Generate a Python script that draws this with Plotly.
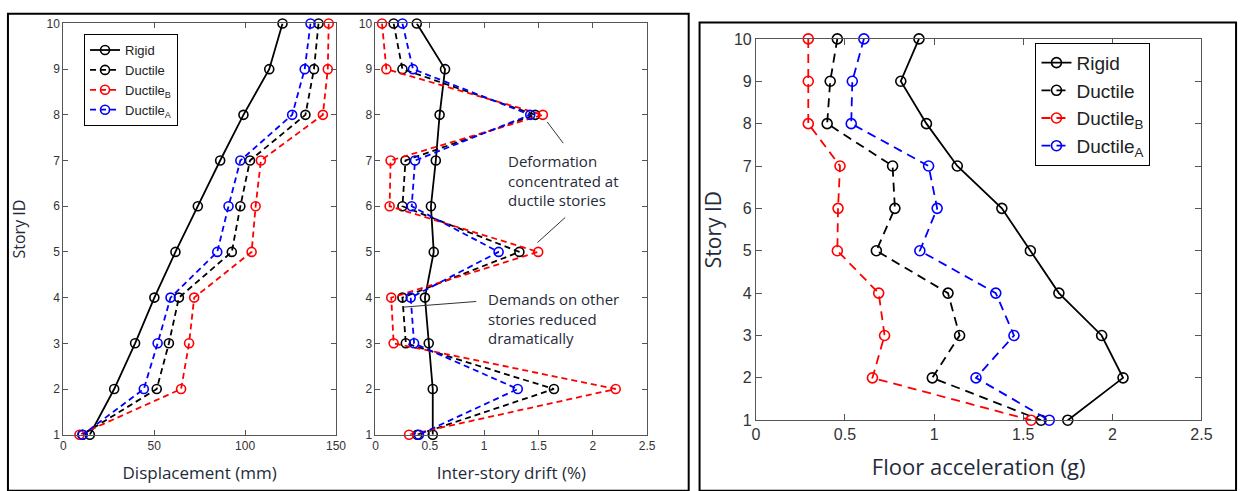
import plotly.graph_objects as go

W, H = 1251, 491
stories = [10, 9, 8, 7, 6, 5, 4, 3, 2, 1]

# Displacement (mm)
disp_rigid = [120.6, 113.3, 99.1, 86.3, 74.0, 61.7, 50.1, 39.5, 28.0, 14.6]
disp_ductile = [140.4, 137.9, 133.2, 102.7, 97.4, 92.7, 63.6, 58.1, 51.4, 10.5]
disp_ductB = [146.0, 145.5, 142.8, 108.7, 105.8, 103.6, 72.0, 69.2, 64.8, 8.9]
disp_ductA = [136.0, 132.8, 125.9, 97.4, 90.9, 84.7, 59.0, 51.9, 44.3, 10.7]

# Inter-story drift (%)
drift_rigid = [0.38, 0.64, 0.59, 0.555, 0.51, 0.536, 0.455, 0.49, 0.527, 0.527]
drift_ductile = [0.167, 0.248, 1.47, 0.276, 0.248, 1.324, 0.248, 0.279, 1.642, 0.385]
drift_ductB = [0.06, 0.10, 1.54, 0.139, 0.13, 1.497, 0.145, 0.167, 2.21, 0.309]
drift_ductA = [0.248, 0.345, 1.424, 0.364, 0.333, 1.133, 0.324, 0.355, 1.309, 0.40]

# Floor acceleration (g)
acc_rigid = [0.915, 0.813, 0.957, 1.13, 1.38, 1.54, 1.70, 1.94, 2.06, 1.75]
acc_ductile = [0.457, 0.417, 0.40, 0.767, 0.78, 0.676, 1.078, 1.143, 0.99, 1.60]
acc_ductB = [0.294, 0.294, 0.294, 0.472, 0.461, 0.457, 0.689, 0.722, 0.654, 1.544]
acc_ductA = [0.606, 0.541, 0.535, 0.969, 1.017, 0.92, 1.346, 1.448, 1.235, 1.646]

names = ["Rigid", "Ductile", "Ductile<sub>B</sub>", "Ductile<sub>A</sub>"]
colors = ["#000000", "#000000", "#ff0000", "#0000ff"]

TXT = "#1f2b3a"
TICK = "#333333"
AX = "#555555"

fig = go.Figure()

panels = [
    ([disp_rigid, disp_ductile, disp_ductB, disp_ductA], "x", "y", "legend", 9, ["solid", "6px,4px", "6px,4px", "6px,4px"]),
    ([drift_rigid, drift_ductile, drift_ductB, drift_ductA], "x2", "y2", None, 9, ["solid", "6px,4px", "6px,4px", "6px,4px"]),
    ([acc_rigid, acc_ductile, acc_ductB, acc_ductA], "x3", "y3", "legend2", 10, ["solid", "9px,6px", "9px,6px", "9px,6px"]),
]

for series, xa, ya, leg, msize, dsh in panels:
    for i, vals in enumerate(series):
        fig.add_trace(go.Scatter(
            x=vals, y=stories, xaxis=xa, yaxis=ya,
            mode="lines+markers", name=names[i],
            line=dict(color=colors[i], width=1.8, dash=dsh[i]),
            marker=dict(symbol="circle-open", size=msize, color=colors[i], line=dict(width=1.6, color=colors[i])),
            cliponaxis=False,
            showlegend=leg is not None,
            legend=leg if leg else "legend",
        ))

def px(x):
    return x / W

def py(y):
    return 1 - y / H

axis_common = dict(
    showline=True, linecolor=AX, linewidth=1, mirror="ticks",
    ticks="inside", ticklen=5, tickcolor=AX, showgrid=False, zeroline=False,
    tickfont=dict(family="Liberation Sans, Arial", size=12, color=TICK),
)
axis_big = {**axis_common, "tickfont": dict(family="Liberation Sans, Arial", size=16, color=TICK), "ticklen": 6}

fig.update_layout(
    width=W, height=H, margin=dict(l=0, r=0, t=0, b=0),
    plot_bgcolor="white", paper_bgcolor="white",
    xaxis=dict(domain=[px(60), px(336)], range=[0, 150], tickvals=[0, 50, 100, 150], anchor="y",
               title=dict(text="Displacement (mm)", font=dict(family="Open Sans", size=17, color=TXT), standoff=15),
               **axis_common),
    yaxis=dict(domain=[py(442), py(16)], range=[1, 10], dtick=1, anchor="x",
               title=dict(text="Story ID", font=dict(family="Open Sans", size=16, color=TXT), standoff=16),
               **axis_common),
    xaxis2=dict(domain=[px(376), px(651)], range=[0, 2.5], dtick=0.5, anchor="y2",
                title=dict(text="Inter-story drift (%)", font=dict(family="Open Sans", size=17, color=TXT), standoff=15),
                **axis_common),
    yaxis2=dict(domain=[py(442), py(16)], range=[1, 10], dtick=1, anchor="x2", **axis_common),
    xaxis3=dict(domain=[px(761), px(1212)], range=[0, 2.5], dtick=0.5, anchor="y3",
                title=dict(text="Floor acceleration (g)", font=dict(family="Open Sans", size=22, color=TXT), standoff=17),
                **axis_big),
    yaxis3=dict(domain=[py(427), py(32)], range=[1, 10], dtick=1, anchor="x3",
                title=dict(text="Story ID", font=dict(family="Open Sans", size=21, color=TXT), standoff=6),
                **axis_big),
    legend=dict(x=px(81), y=py(27), xanchor="left", yanchor="top",
                bordercolor="#000", borderwidth=1, bgcolor="white",
                font=dict(family="Liberation Sans, Arial", size=13, color="#222"),
                tracegroupgap=0, itemwidth=30),
    legend2=dict(x=px(1044), y=py(36), xanchor="left", yanchor="top",
                 bordercolor="#000", borderwidth=1, bgcolor="white",
                 font=dict(family="Liberation Sans, Arial", size=19, color="#222"),
                 tracegroupgap=0, itemwidth=30),
    showlegend=True,
)

# outer frames
fig.add_shape(type="rect", xref="paper", yref="paper", x0=px(4), x1=px(693), y0=py(500), y1=py(6),
              line=dict(color="#000", width=2), layer="above")
fig.add_shape(type="rect", xref="paper", yref="paper", x0=px(704), x1=px(1247), y0=py(500), y1=py(15),
              line=dict(color="#000", width=2), layer="above")

# leader lines (drift panel)
for (x0, y0, x1, y1) in [(1.58, 7.845, 1.727, 7.38), (1.745, 5.753, 1.49, 5.204), (0.927, 3.915, 0.245, 3.79)]:
    fig.add_shape(type="line", xref="x2", yref="y2", x0=x0, y0=y0, x1=x1, y1=y1,
                  line=dict(color="#333", width=1))

fig.add_annotation(xref="x2", yref="y2", x=1.2, y=6.556, xanchor="left", yanchor="middle", align="left",
                   text="Deformation<br>concentrated at<br>ductile stories", showarrow=False,
                   font=dict(family="Open Sans", size=15, color=TXT))
fig.add_annotation(xref="x2", yref="y2", x=1.018, y=3.545, xanchor="left", yanchor="middle", align="left",
                   text="Demands on other<br>stories reduced<br>dramatically", showarrow=False,
                   font=dict(family="Open Sans", size=15, color=TXT))

fig.write_html("out.html")
